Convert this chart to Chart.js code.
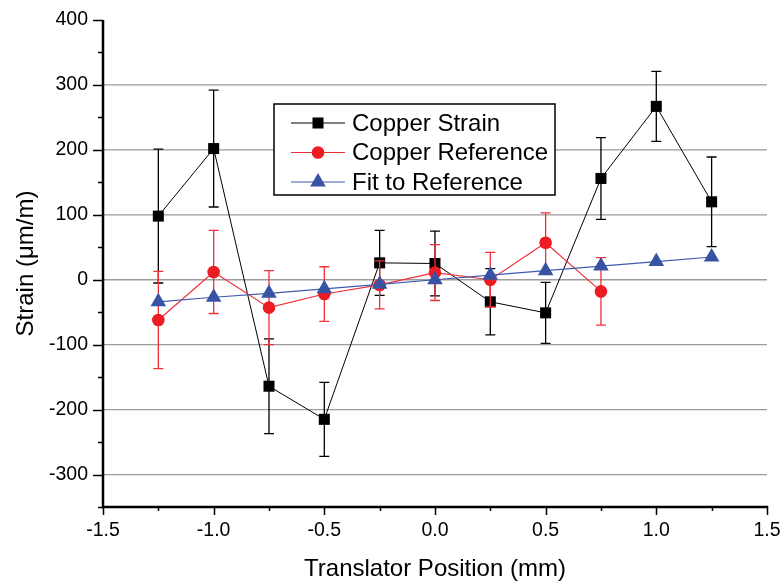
<!DOCTYPE html>
<html>
<head>
<meta charset="utf-8">
<script src="https://cdn.jsdelivr.net/npm/chart.js@4.4.1/dist/chart.umd.min.js"></script>
<style>
  html, body { margin: 0; padding: 0; background: #ffffff; }
  #wrap { width: 781px; height: 581px; position: relative; }
</style>
</head>
<body>
<div id="wrap"><canvas id="c" width="781" height="581"></canvas></div>
<script>
// ---------- data ----------
const strainPositions = [-1.25, -1.0, -0.75, -0.5, -0.25, 0.0, 0.25, 0.5, 0.75, 1.0, 1.25];
const copperStrain    = [98, 202, -164, -215, 26, 25, -34, -51, 156, 267, 120];
const copperStrainErr = [103, 90, 73, 57, 50, 50, 51, 47, 63, 54, 69];

const refPositions    = [-1.25, -1.0, -0.75, -0.5, -0.25, 0.0, 0.25, 0.5, 0.75];
const copperRef       = [-62, 12, -43, -22, -8, 11, 0, 57, -18];
const copperRefErr    = [75, 64, 57, 42, 37, 43, 42, 46, 52];

const fitPositions    = [-1.25, -1.0, -0.75, -0.5, -0.25, 0.0, 0.25, 0.5, 0.75, 1.0, 1.25];
const fitValues       = [-34, -27, -21, -14, -7, 0, 7, 14, 21, 28, 35];

const seriesNames = ['Copper Strain', 'Copper Reference', 'Fit to Reference'];
const xAxisTitle = 'Translator Position (mm)';
const yAxisTitle = 'Strain (\u03BCm/m)';
const xMin = -1.5, xMax = 1.5, xMajor = 0.5, xMinor = 0.25;
const yMin = -350, yMax = 400, yMajor = 100, yMinor = 50;

const FONT = "'Liberation Sans', Arial, Helvetica, sans-serif";
const CLEAR = 'rgba(0,0,0,0)';

function pts(xs, ys) { return xs.map((x, i) => ({ x: x, y: ys[i] })); }

// ---------- plugins ----------
const gridLines = {
  id: 'gridLines',
  beforeDatasetsDraw(chart) {
    const { ctx, scales: { x, y } } = chart;
    const x0 = x.getPixelForValue(xMin), x1 = x.getPixelForValue(xMax);
    ctx.save();
    ctx.strokeStyle = '#9c9c9c';
    ctx.lineWidth = 1.3;
    ctx.beginPath();
    for (let v = Math.ceil(yMin / yMajor) * yMajor; v < yMax; v += yMajor) {
      const py = y.getPixelForValue(v);
      ctx.moveTo(x0, py); ctx.lineTo(x1, py);
    }
    ctx.stroke();
    ctx.restore();
  }
};

const errorBars = {
  id: 'errorBars',
  beforeDatasetDraw(chart, args) {
    const ds = chart.data.datasets[args.index];
    if (!ds.errors) return;
    const { ctx, scales: { x, y } } = chart;
    ctx.save();
    ctx.strokeStyle = ds.errorColor;
    ctx.lineWidth = 1.3;
    ctx.beginPath();
    ds.data.forEach((p, i) => {
      const e = ds.errors[i];
      const px = x.getPixelForValue(p.x);
      const top = y.getPixelForValue(p.y + e);
      const bot = y.getPixelForValue(p.y - e);
      ctx.moveTo(px, top); ctx.lineTo(px, bot);
      ctx.moveTo(px - 5, top); ctx.lineTo(px + 5, top);
      ctx.moveTo(px - 5, bot); ctx.lineTo(px + 5, bot);
    });
    ctx.stroke();
    ctx.restore();
  }
};

const axisTicks = {
  id: 'axisTicks',
  afterDraw(chart) {
    const { ctx, scales: { x, y } } = chart;
    const x0 = x.getPixelForValue(xMin), x1 = x.getPixelForValue(xMax);
    const yb = y.getPixelForValue(yMin), yt = y.getPixelForValue(yMax);
    ctx.save();
    // axis lines
    ctx.strokeStyle = '#000';
    ctx.lineWidth = 2.5;
    ctx.beginPath();
    ctx.moveTo(x0, yt); ctx.lineTo(x0, yb);
    ctx.moveTo(x0 - 1.25, yb); ctx.lineTo(x1 + 1.25, yb);
    ctx.stroke();
    // tick marks
    ctx.lineWidth = 1.5;
    ctx.beginPath();
    const ny = Math.round((yMax - yMin) / yMinor);
    for (let k = 0; k <= ny; k++) {
      const v = yMin + k * yMinor;
      const py = Math.round(y.getPixelForValue(v)) + 0.5;
      const L = (v % yMajor === 0) ? 10 : 5;
      ctx.moveTo(x0 - L, py); ctx.lineTo(x0, py);
    }
    const nx = Math.round((xMax - xMin) / xMinor);
    for (let k = 0; k <= nx; k++) {
      const v = xMin + k * xMinor;
      const px = Math.round(x.getPixelForValue(v)) + 0.5;
      const major = k % Math.round(xMajor / xMinor) === 0;
      const L = major ? 8 : 4;
      ctx.moveTo(px, yb); ctx.lineTo(px, yb + L);
    }
    ctx.stroke();
    ctx.restore();
  }
};

const boxLegend = {
  id: 'boxLegend',
  afterDraw(chart) {
    const { ctx } = chart;
    const o = chart.options.plugins.boxLegend;
    ctx.save();
    ctx.fillStyle = '#fff';
    ctx.fillRect(o.left, o.top, o.width, o.height);
    ctx.strokeStyle = '#000';
    ctx.lineWidth = 1.5;
    ctx.strokeRect(o.left, o.top, o.width, o.height);
    o.order.forEach((di, row) => {
      const ds = chart.data.datasets[di];
      const cy = o.top + o.firstRow + row * o.rowGap;
      ctx.strokeStyle = ds.borderColor;
      ctx.lineWidth = ds.borderWidth;
      ctx.beginPath();
      ctx.moveTo(o.left + o.lineStart, cy);
      ctx.lineTo(o.left + o.lineEnd, cy);
      ctx.stroke();
      ctx.fillStyle = ds.pointBackgroundColor;
      ctx.strokeStyle = ds.pointBorderColor;
      Chart.helpers.drawPoint(ctx, {
        pointStyle: ds.pointStyle, radius: ds.pointRadius,
        borderWidth: ds.pointBorderWidth, rotation: 0
      }, o.left + (o.lineStart + o.lineEnd) / 2, cy);
      ctx.fillStyle = '#000';
      ctx.font = '24px ' + FONT;
      ctx.textBaseline = 'middle';
      ctx.textAlign = 'left';
      ctx.fillText(ds.label, o.left + o.textX, cy + 1);
    });
    ctx.restore();
  }
};

// ---------- chart ----------
new Chart(document.getElementById('c'), {
  type: 'scatter',
  data: {
    datasets: [
      {
        label: seriesNames[0],
        data: pts(strainPositions, copperStrain),
        errors: copperStrainErr, errorColor: '#000000',
        showLine: true, borderColor: '#000000', borderWidth: 1,
        pointStyle: 'rect', pointRadius: 7.8,
        pointBackgroundColor: '#000000', pointBorderColor: '#000000', pointBorderWidth: 0,
        order: 3
      },
      {
        label: seriesNames[1],
        data: pts(refPositions, copperRef),
        errors: copperRefErr, errorColor: '#f0303a',
        showLine: true, borderColor: '#f0303a', borderWidth: 1.2,
        pointStyle: 'circle', pointRadius: 6.3,
        pointBackgroundColor: '#ed1c24', pointBorderColor: '#ed1c24', pointBorderWidth: 0,
        order: 2
      },
      {
        label: seriesNames[2],
        data: pts(fitPositions, fitValues),
        showLine: true, borderColor: '#3f5bb0', borderWidth: 1.2,
        pointStyle: 'triangle', pointRadius: 9,
        pointBackgroundColor: '#3953a4', pointBorderColor: '#3953a4', pointBorderWidth: 0,
        order: 1
      }
    ]
  },
  options: {
    responsive: false,
    animation: false,
    devicePixelRatio: 1,
    layout: { padding: { left: 0, right: 0, top: 20, bottom: 0 } },
    plugins: {
      legend: { display: false },
      tooltip: { enabled: false },
      boxLegend: {
        left: 274, top: 104, width: 281, height: 91,
        firstRow: 19, rowGap: 29.5,
        lineStart: 17, lineEnd: 71, textX: 78,
        order: [0, 1, 2]
      }
    },
    scales: {
      x: {
        type: 'linear', min: xMin, max: xMax,
        ticks: {
          stepSize: xMajor, padding: 0.5, color: '#000',
          font: { size: 19.5, family: FONT },
          maxRotation: 0, autoSkip: false,
          callback: (v) => Number(v).toFixed(1)
        },
        grid: { display: true, color: CLEAR, drawOnChartArea: false, drawTicks: true, tickLength: 11.5, tickColor: CLEAR },
        border: { display: false },
        title: {
          display: true, text: xAxisTitle, color: '#000',
          font: { size: 24, family: FONT }, padding: { top: 0, bottom: -3 }
        },
        afterFit: (s) => { s.height = 74; }
      },
      y: {
        type: 'linear', min: yMin, max: yMax,
        ticks: {
          stepSize: yMajor, padding: 2, color: '#000',
          font: { size: 19.5, family: FONT },
          autoSkip: false,
          callback: (v) => (v === yMin ? '' : String(v))
        },
        grid: { display: true, color: CLEAR, drawOnChartArea: false, drawTicks: true, tickLength: 13, tickColor: CLEAR },
        border: { display: false },
        title: {
          display: true, text: yAxisTitle, color: '#000',
          font: { size: 24, family: FONT }, padding: { top: 11.5, bottom: 0 }
        },
        afterFit: (s) => { s.width = 103; }
      }
    }
  },
  plugins: [gridLines, errorBars, axisTicks, boxLegend]
});
</script>
</body>
</html>
